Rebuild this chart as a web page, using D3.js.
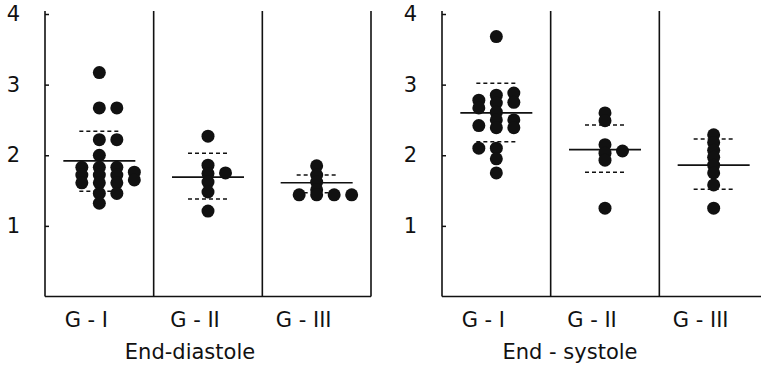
<!DOCTYPE html>
<html>
<head>
<meta charset="utf-8">
<script src="https://cdn.jsdelivr.net/npm/d3@7"></script>
<style>
  body { margin: 0; background: #fff; }
  text { font-family: "DejaVu Sans", sans-serif; fill: #111; }
</style>
</head>
<body>
<svg></svg>
<script>
// ============================== DATA ==============================
var groups = ["G - I", "G - II", "G - III"];
var yTicks = [1, 2, 3, 4];

// End-diastole: values per group, and the stacking slot of each dot (column in the swarm)
var edValues = [
  [3.17, 2.67, 2.67, 2.22, 2.22, 2.00, 1.83, 1.72, 1.61, 1.83, 1.72, 1.61, 1.46, 1.32, 1.83, 1.72, 1.61, 1.46, 1.76, 1.65],
  [2.27, 1.86, 1.74, 1.62, 1.48, 1.75, 1.21],
  [1.85, 1.72, 1.62, 1.51, 1.44, 1.44, 1.44, 1.44]
];
var edSlots = [
  [0, 0, 1, 0, 1, 0, -1, -1, -1, 0, 0, 0, 0, 0, 1, 1, 1, 1, 2, 2],
  [0, 0, 0, 0, 0, 1, 0],
  [0, 0, 0, 0, -1, 0, 1, 2]
];
var edMean = [1.92, 1.69, 1.61];
var edUpper = [2.34, 2.03, 1.72];
var edLower = [1.49, 1.38, 1.47];

// End-systole
var esValues = [
  [3.68, 2.78, 2.67, 2.42, 2.10, 2.85, 2.74, 2.61, 2.50, 2.39, 2.10, 1.95, 1.75, 2.88, 2.75, 2.50, 2.39],
  [2.60, 2.49, 2.15, 2.03, 1.93, 1.25, 2.06],
  [2.29, 2.18, 2.07, 1.97, 1.86, 1.75, 1.58, 1.25]
];
var esSlots = [
  [0, -1, -1, -1, -1, 0, 0, 0, 0, 0, 0, 0, 0, 1, 1, 1, 1],
  [0, 0, 0, 0, 0, 0, 1],
  [0, 0, 0, 0, 0, 0, 0, 0]
];
var esMean = [2.60, 2.08, 1.86];
var esUpper = [3.02, 2.43, 2.23];
var esLower = [2.19, 1.76, 1.52];

var titles = ["End-diastole", "End - systole"];

// ============================== LAYOUT ==============================
var width = 761, height = 368;
var panelW = 326;
var panelX = [45, 442];
var titleShift = [-18, -35];
var slotGap = 17.5, r = 6.5;

var svg = d3.select("svg").attr("width", width).attr("height", height);

var ys = d3.scaleLinear().domain([0, 4]).range([296.5, 14]);
var xs = d3.scaleBand().domain(groups).range([0, panelW]).padding(0);

var panels = [
  { values: edValues, slots: edSlots, mean: edMean, upper: edUpper, lower: edLower },
  { values: esValues, slots: esSlots, mean: esMean, upper: esUpper, lower: esLower }
];

panels.forEach(function(p, pi) {
  var g = svg.append("g").attr("transform", "translate(" + panelX[pi] + ",0)");

  // y axis
  var ax = g.append("g")
    .call(d3.axisLeft(ys).tickValues(yTicks).tickSize(-4).tickPadding(25).tickFormat(d3.format("d")));
  ax.select(".domain").remove();
  ax.selectAll("line").attr("stroke", "#111").attr("stroke-width", 1.5);
  ax.selectAll("text").style("font-size", "21px").attr("fill", "#111");

  // frame: left axis, dividers, baseline
  g.append("line").attr("x1", 0).attr("x2", 0).attr("y1", ys(0)).attr("y2", 11)
    .attr("stroke", "#111").attr("stroke-width", 1.6);
  g.selectAll(".divider").data(groups).enter().append("line")
    .attr("x1", function(d) { return xs(d) + xs.bandwidth(); })
    .attr("x2", function(d) { return xs(d) + xs.bandwidth(); })
    .attr("y1", ys(0)).attr("y2", 11)
    .attr("stroke", "#111").attr("stroke-width", 1.6);
  g.append("line").attr("x1", 0).attr("x2", panelW).attr("y1", ys(0)).attr("y2", ys(0))
    .attr("stroke", "#111").attr("stroke-width", 1.6);

  groups.forEach(function(grp, gi) {
    var cx = xs(grp) + xs.bandwidth() / 2;

    // mean line
    g.append("line").attr("x1", cx - 36).attr("x2", cx + 36)
      .attr("y1", ys(p.mean[gi])).attr("y2", ys(p.mean[gi]))
      .attr("stroke", "#111").attr("stroke-width", 1.6);

    // +/- SD dashed lines
    [p.upper[gi], p.lower[gi]].forEach(function(v) {
      g.append("line").attr("x1", cx - 20).attr("x2", cx + 20)
        .attr("y1", ys(v)).attr("y2", ys(v))
        .attr("stroke", "#111").attr("stroke-width", 1.5)
        .attr("stroke-dasharray", "4,3");
    });

    // dots
    g.selectAll(".dot" + gi).data(p.values[gi]).enter().append("circle")
      .attr("cx", function(d, i) { return cx + p.slots[gi][i] * slotGap; })
      .attr("cy", function(d) { return ys(d); })
      .attr("r", r)
      .attr("fill", "#111");

    // group label
    g.append("text").attr("x", cx - 13).attr("y", 327)
      .attr("text-anchor", "middle").style("font-size", "21px")
      .text(grp);
  });

  // panel title
  g.append("text").attr("x", xs("G - II") + xs.bandwidth() / 2 + titleShift[pi]).attr("y", 359)
    .attr("text-anchor", "middle").style("font-size", "21px")
    .text(titles[pi]);
});
</script>
</body>
</html>
